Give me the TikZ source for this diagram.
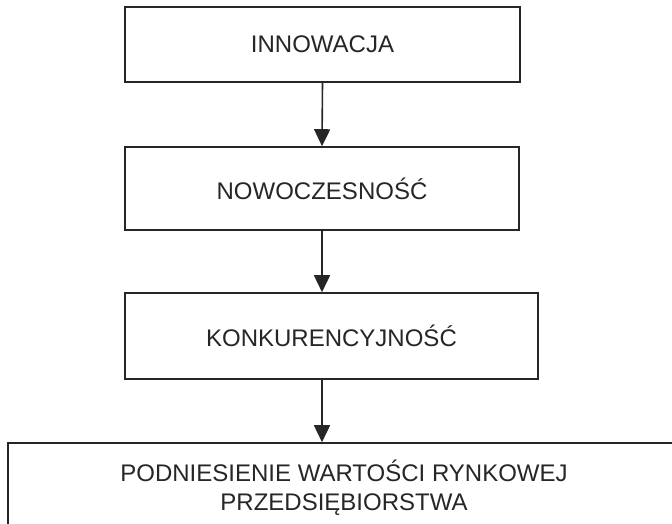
\documentclass[tikz,border=0pt]{standalone}
\usepackage{fontspec}
\setmainfont{Liberation Sans}
\usetikzlibrary{arrows.meta}
\begin{document}
\begin{tikzpicture}[x=1pt,y=1pt,
  box/.style={draw=black!85, line width=1.6pt, fill=white, inner sep=0pt,
    align=center, font=\fontsize{24}{29}\selectfont, text=black!85},
  arr/.style={draw=black!85, line width=1.6pt,
    -{Triangle[length=17pt,width=16pt]}}]
\useasboundingbox (0,0) rectangle (672,-523);
\clip (0,0) rectangle (672,-523);
\fill[white] (0,0) rectangle (672,-523);
\node[box, minimum width=395pt, minimum height=75pt] (b1) at (322.5,-44.5) {INNOWACJA};
\node[box, minimum width=394pt, minimum height=83pt] (b2) at (322,-188.5) {NOWOCZESNOŚĆ};
\node[box, minimum width=413pt, minimum height=86pt] (b3) at (331.5,-336) {KONKURENCYJNOŚĆ};
\node[box, minimum width=672pt, minimum height=90pt] (b4) at (344,-488) {PODNIESIENIE WARTOŚCI RYNKOWEJ\\PRZEDSIĘBIORSTWA};
\draw[arr] (b1.south) -- (b2.north);
\draw[arr] (b2.south) -- (b3.north -| b2.south);
\draw[arr] (b3.south -| b2.south) -- (b4.north -| b2.south);
\end{tikzpicture}
\end{document}
